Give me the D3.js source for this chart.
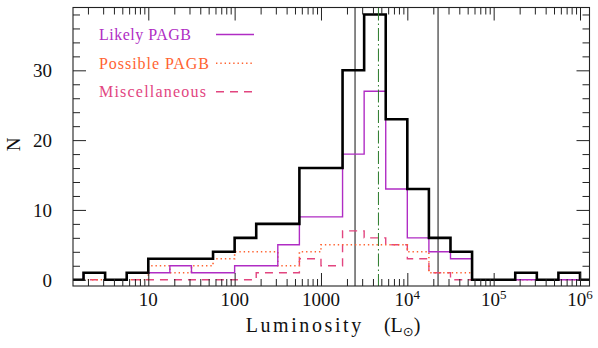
<!DOCTYPE html>
<html><head><meta charset="utf-8">
<script src="https://cdn.jsdelivr.net/npm/d3@7"></script>
<style>html,body{margin:0;padding:0;background:#fff;}svg{display:block;}</style>
</head><body>
<svg id="chart" width="598" height="348"></svg>
<script>
// ---- data ----
// lower edges of the luminosity bins, log10(L/Lsun), bin width 0.25 dex
const binEdgesLog = [0.0,0.25,0.5,0.75,1.0,1.25,1.5,1.75,2.0,2.25,2.5,2.75,3.0,3.25,3.5,3.75,4.0,4.25,4.5,4.75,5.0,5.25,5.5,5.75,6.0,6.25];
const totalCounts    = [0,1,0,1,3,3,3,4,6,8,8,16,16,30,38,23,13,6,4,0,0,1,0,1,0];
const likelyCounts   = [0,1,0,1,1,2,1,1,2,2,5,9,9,18,27,13,6,4,3,0,0,0,0,0,0];
const possibleCounts = [0,0,0,0,2,1,2,3,4,4,2,4,5,5,5,5,4,1,1,0,0,0,0,0,0];
const miscCounts     = [0,0,0,0,0,0,0,0,0,1,1,3,2,7,6,5,3,1,0,0,0,1,0,1,0];
const markerLines = [2480, 22700];   // thin black vertical lines (Lsun)
const medianLine = [4630];           // green dash-dot line (Lsun)
const xMajorTicks = [10,100,1000,1e4,1e5,1e6];
const xTickLabels = [["10",""],["100",""],["1000",""],["10","4"],["10","5"],["10","6"]];
const yMajorTicks = [0,10,20,30];
const legendLabels = ["Likely PAGB","Possible PAGB","Miscellaneous"];

// ---- layout ----
const svg = d3.select("#chart");
const L = 73, R = 589.5, T = 7.5, B = 286;
const x = d3.scaleLog().domain([Math.pow(10,0.128), Math.pow(10,6.11)]).range([L,R]);
const y = d3.scaleLinear().domain([-0.9,39]).range([B,T]);
const FONT = "'Liberation Serif', 'DejaVu Serif', serif";
const cLikely = "#b02cc4", cPossible = "#ff6331", cMisc = "#e2457f", cGreen = "#2a7a2a";

svg.append("clipPath").attr("id","clip").append("rect")
  .attr("x",L).attr("y",T).attr("width",R-L).attr("height",B-T);
const plot = svg.append("g").attr("clip-path","url(#clip)");

function stepPath(counts){
  const pts = counts.map((c,i)=>[binEdgesLog[i], c]);
  pts.push([binEdgesLog[counts.length], counts[counts.length-1]]);
  return d3.line().curve(d3.curveStepAfter)
    .x(d=>x(Math.pow(10,d[0]))).y(d=>y(d[1]))(pts);
}

// vertical reference lines
plot.selectAll(".vline").data(markerLines).enter().append("line")
  .attr("x1",d=>x(d)).attr("x2",d=>x(d)).attr("y1",T).attr("y2",B)
  .attr("stroke","#111").attr("stroke-width",1);

// series
plot.append("path").attr("d",stepPath(miscCounts)).attr("fill","none")
  .attr("stroke",cMisc).attr("stroke-width",1.4).attr("stroke-dasharray","8,6");
plot.append("path").attr("d",stepPath(possibleCounts)).attr("fill","none")
  .attr("stroke",cPossible).attr("stroke-width",1.6).attr("stroke-dasharray","1.4,2.9");
plot.append("path").attr("d",stepPath(likelyCounts)).attr("fill","none")
  .attr("stroke",cLikely).attr("stroke-width",1.4);
plot.append("path").attr("d",stepPath(totalCounts)).attr("fill","none")
  .attr("stroke","#000").attr("stroke-width",2.6).attr("stroke-linejoin","miter");

plot.selectAll(".gline").data(medianLine).enter().append("line")
  .attr("x1",d=>x(d)).attr("x2",d=>x(d)).attr("y1",T).attr("y2",B)
  .attr("stroke",cGreen).attr("stroke-width",1).attr("stroke-dasharray","13,3,1.5,3");

// axes ticks (inward)
const xMinor = x.ticks().filter(v=>!xMajorTicks.includes(v));
const yMinor = y.ticks(20).filter(v=>!yMajorTicks.includes(v));
function tickAxis(axisFn, scale, vals, size, tr){
  const g = svg.append("g").attr("transform",tr)
    .call(axisFn(scale).tickValues(vals).tickSize(size).tickFormat(""));
  g.select(".domain").remove();
  g.selectAll("line").attr("stroke","#222").attr("stroke-width",1);
}
tickAxis(d3.axisBottom, x, xMajorTicks, -13, `translate(0,${B})`);
tickAxis(d3.axisBottom, x, xMinor, -7, `translate(0,${B})`);
tickAxis(d3.axisTop, x, xMajorTicks, -13, `translate(0,${T})`);
tickAxis(d3.axisTop, x, xMinor, -7, `translate(0,${T})`);
tickAxis(d3.axisLeft, y, yMajorTicks, -13, `translate(${L},0)`);
tickAxis(d3.axisLeft, y, yMinor, -7, `translate(${L},0)`);
tickAxis(d3.axisRight, y, yMajorTicks, -13, `translate(${R},0)`);
tickAxis(d3.axisRight, y, yMinor, -7, `translate(${R},0)`);

svg.append("rect").attr("x",L).attr("y",T).attr("width",R-L).attr("height",B-T)
  .attr("fill","none").attr("stroke","#222").attr("stroke-width",1.1);

// tick labels
svg.selectAll(".ylab").data(yMajorTicks).enter().append("text")
  .attr("x",52).attr("y",d=>y(d)+7).attr("text-anchor","end")
  .attr("font-family",FONT).attr("font-size",19).attr("fill","#111")
  .text(d=>d);

const xl = svg.selectAll(".xlab").data(xMajorTicks).enter().append("text")
  .attr("x",d=>x(d)).attr("y",306).attr("text-anchor","middle")
  .attr("font-family",FONT).attr("font-size",19).attr("fill","#111");
xl.append("tspan").text((d,i)=>xTickLabels[i][0]);
xl.append("tspan").attr("dy",-7).attr("font-size",13).text((d,i)=>xTickLabels[i][1]);

// axis titles
const xt = svg.append("text").attr("x",333).attr("y",332).attr("text-anchor","middle")
  .attr("font-family",FONT).attr("font-size",20).attr("fill","#111");
xt.append("tspan").text("Luminosity").attr("letter-spacing",2.6);
xt.append("tspan").text("\u2003(L");
xt.append("tspan").attr("dy",4).attr("font-size",13).attr("font-family","'DejaVu Sans'").text("\u2299");
xt.append("tspan").attr("dy",-4).text(")");

svg.append("text").attr("transform","translate(20,144.5) rotate(-90)")
  .attr("text-anchor","middle").attr("font-family",FONT).attr("font-size",19)
  .attr("fill","#111").text("N");

// legend
const legColors = [cLikely,cPossible,cMisc];
const legDash = [null,"1.4,2.9","8,6"];
const legY = [34.5,63.3,91.8];
const legW = [92,110,107];
legendLabels.forEach((lab,i)=>{
  svg.append("text").attr("x",99).attr("y",legY[i]+5.5)
    .attr("font-family",FONT).attr("font-size",16).attr("fill",legColors[i])
    .attr("textLength",legW[i]).attr("lengthAdjust","spacing").text(lab);
  svg.append("line").attr("x1",216).attr("x2",i===1?252:254)
    .attr("y1",legY[i]).attr("y2",legY[i]).attr("stroke",legColors[i])
    .attr("stroke-width",i===1?1.6:1.4).attr("stroke-dasharray",legDash[i]);
});
</script>
</body></html>
